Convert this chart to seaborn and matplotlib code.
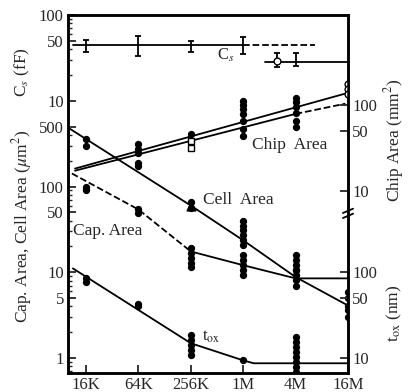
import matplotlib
matplotlib.use("Agg")
import matplotlib.pyplot as plt
import numpy as np
import pandas as pd
import seaborn as sns

sns.set_style("ticks")
plt.rcParams["font.family"] = ["Liberation Serif", "DejaVu Serif"]
plt.rcParams["mathtext.fontset"] = "stix"

sizes = ["16K", "64K", "256K", "1M", "4M", "16M"]

# everything is drawn on one log axis in um^2; the other quantities are shifted onto it
CS_K = 100.0    # fF  -> axis
CHIP_K = 8.9    # mm2 -> axis
TOX_K = 0.1     # nm  -> axis

# ---- trend lines (x = generation index, 16K = 0) ----
cs_line_x, cs_line_y = [-0.25, 3.0], [45, 45]
cs_dash_x, cs_dash_y = [3.0, 4.37], [45, 45]
cs_low_x, cs_low_y = [3.42, 5.0], [28, 28]

chip_up_x, chip_up_y = [-0.21, 5.0], [18.2, 139]
chip_lo_x, chip_lo_y = [-0.21, 4.0], [17.2, 79]
chip_ext_x, chip_ext_y = [4.0, 4.95], [79, 104]

cell_line_x = [-0.34, 2, 3, 4, 5]
cell_line_y = [485, 60, 23.6, 8.8, 4.1]
cap_dash_x, cap_dash_y = [-0.27, 1, 2], [142, 54, 17.5]
cap_line_x, cap_line_y = [2, 3, 4, 5], [17.5, 12.1, 8.5, 8.5]
tox_line_x = [-0.25, 2, 3, 3.2, 5]
tox_line_y = [111, 14.9, 9.4, 8.7, 8.7]

# ---- Cs error bars (fF) ----
cs_err_x = [0, 1, 2, 3, 3.65, 4]
cs_mid = [45, 45, 45, 45, 28, 28]
cs_lo = [37, 33.5, 37, 35, 24.5, 25.5]
cs_hi = [51, 56.5, 50, 55.7, 36, 36]

# ---- measured points ----
chip_x = [1, 1, 1, 2, 3, 3, 3, 3, 3, 3, 3, 4, 4, 4, 4, 4, 4]
chip_y = [35, 31, 28, 46, 112, 100, 90, 78, 66, 53, 44, 122, 108, 95, 81, 66, 55]
chip_sq_x, chip_sq_y = [2, 2], [38.5, 32]
chip_ci_x, chip_ci_y = [5, 5, 5], [177, 155, 135]

cell_x = [0, 0, 1, 1, 2, 2, 3, 3, 3, 3, 3, 3, 4, 4, 4, 4, 5, 5, 5, 5, 5]
cell_y = [360, 300, 190, 172, 66, 56, 40, 35, 31, 27, 23.6, 20.6,
          15.8, 13.8, 12.1, 10.6, 5.85, 5.0, 4.1, 3.6, 3.0]
cap_x = [0, 0, 1, 1, 2, 2, 2, 2, 2, 3, 3, 3, 3, 3, 4, 4, 4, 4]
cap_y = [100, 92, 54, 49, 19, 16.6, 14.5, 12.7, 11.4,
         15.8, 13.8, 12.1, 10.6, 9.2, 10.6, 9.2, 8.1, 7.0]
tox_x = [0, 0, 1, 1, 2, 2, 2, 2, 2, 3, 4, 4, 4, 4, 4, 4, 4, 4]
tox_y = [85, 78, 43, 40, 18.5, 16.2, 14.2, 12.4, 10.8, 9.6,
         17.5, 15.3, 13.4, 11.7, 10.3, 9.0, 7.9, 6.9]

fig = plt.figure(figsize=(4.08, 3.92), dpi=100)
ax = fig.add_axes([68 / 408, 1 - 373 / 392, 280 / 408, 358 / 392])


def line(x, y, k, ls="-"):
    df = pd.DataFrame({"x": x, "y": np.array(y, float) * k})
    sns.lineplot(data=df, x="x", y="y", ax=ax, color="black", lw=1.3,
                 linestyle=ls, sort=False, estimator=None)


def pts(x, y, k, face="black", marker="o", s=18):
    df = pd.DataFrame({"x": x, "y": np.array(y, float) * k})
    sns.scatterplot(data=df, x="x", y="y", ax=ax, marker=marker, s=s,
                    color=face, edgecolor="black", linewidth=1.0, zorder=4)


line(cs_line_x, cs_line_y, CS_K)
line(cs_dash_x, cs_dash_y, CS_K, "--")
line(cs_low_x, cs_low_y, CS_K)
line(chip_up_x, chip_up_y, CHIP_K)
line(chip_lo_x, chip_lo_y, CHIP_K)
line(chip_ext_x, chip_ext_y, CHIP_K, "--")
line(cell_line_x, cell_line_y, 1)
line(cap_dash_x, cap_dash_y, 1, "--")
line(cap_line_x, cap_line_y, 1)
line(tox_line_x, tox_line_y, TOX_K)

mid = np.array(cs_mid) * CS_K
ax.errorbar(cs_err_x, mid, yerr=[mid - np.array(cs_lo) * CS_K, np.array(cs_hi) * CS_K - mid],
            fmt="none", ecolor="black", elinewidth=1.3, capsize=2.5, capthick=1.3)
pts([3.65], [29], CS_K, face="white", s=24)

pts(chip_x, chip_y, CHIP_K)
pts(chip_sq_x, chip_sq_y, CHIP_K, face="white", marker="s", s=22)
pts(chip_ci_x, chip_ci_y, CHIP_K, face="white", s=24)
pts(cell_x, cell_y, 1)
pts([2], [60], 1, marker="^", s=40)
pts(cap_x, cap_y, 1)
pts(tox_x, tox_y, TOX_K)

ax.set_yscale("log")
ax.set_xlim(-0.344, 5.0)
ax.set_ylim(0.67, 9730)
ax.set_xlabel("")
ax.set_ylabel("")
ax.set_xticks(range(len(sizes)))
ax.set_xticklabels(sizes)

left_pos = [1e4, 5e3, 1e3, 500, 100, 50, 10, 5, 1]
left_lab = ["100", "50", "10", "500", "100", "50", "10", "5", "1"]
ax.set_yticks(left_pos)
ax.set_yticklabels(left_lab)
minor = [v * 100 for v in [20, 30, 40, 60, 70, 80, 90]] + \
        [0.7, 0.8, 0.9, 2, 3, 4, 6, 7, 8, 9, 20, 30, 40, 60, 70, 80, 90, 200, 300, 400]
ax.set_yticks(minor, minor=True)
ax.set_yticklabels([], minor=True)
ax.tick_params(axis="both", which="major", direction="in", length=6, width=1.3,
               labelsize=12, pad=3)
ax.tick_params(axis="y", which="minor", direction="in", length=3, width=1.0)
ax.tick_params(axis="x", which="minor", bottom=False)

ax2 = ax.twinx()
ax2.set_yscale("log")
ax2.set_ylim(ax.get_ylim())
right_pos = [100 * CHIP_K, 50 * CHIP_K, 10 * CHIP_K, 100 * TOX_K, 50 * TOX_K, 10 * TOX_K]
ax2.set_yticks(right_pos)
ax2.set_yticklabels(["100", "50", "10", "100", "50", "10"])
ax2.set_yticks([], minor=True)
ax2.tick_params(axis="y", which="major", direction="in", length=6, width=1.3,
                labelsize=12, pad=3)

for a in (ax, ax2):
    for sp in a.spines.values():
        sp.set_linewidth(1.8)
        sp.set_color("black")

# break mark on the right axis
yb = (373 - 213) / 358
for dy in (-0.008, 0.006):
    ax.plot([0.982, 1.018], [yb + dy - 0.006, yb + dy + 0.006], transform=ax.transAxes,
            color="black", lw=1.3, clip_on=False, zorder=6)

ax.text(2.5, 3350, "C$_s$", fontsize=12, va="center", ha="left")
ax.text(3.17, 309, "Chip  Area", fontsize=12.5, va="center", ha="left")
ax.text(2.23, 68.8, "Cell  Area", fontsize=12.5, va="center", ha="left")
ax.text(-0.25, 30.0, "Cap. Area", fontsize=12.5, va="center", ha="left")
ax.text(2.21, 1.75, "t$_\\mathrm{ox}$", fontsize=12, va="center", ha="left")

fig.text(22 / 408, 1 - 226 / 392, "Cap. Area, Cell Area ($\\mu$m$^2$)", rotation=90,
         fontsize=12.5, ha="center", va="center")
fig.text(22 / 408, 1 - 72 / 392, "C$_s$ (fF)", rotation=90,
         fontsize=12.5, ha="center", va="center")
fig.text(394 / 408, 1 - 140 / 392, "Chip Area (mm$^2$)", rotation=90,
         fontsize=12.5, ha="center", va="center")
fig.text(394 / 408, 1 - 313 / 392, "t$_\\mathrm{ox}$ (nm)", rotation=90,
         fontsize=12.5, ha="center", va="center")

fig.savefig("out.png", dpi=100)
